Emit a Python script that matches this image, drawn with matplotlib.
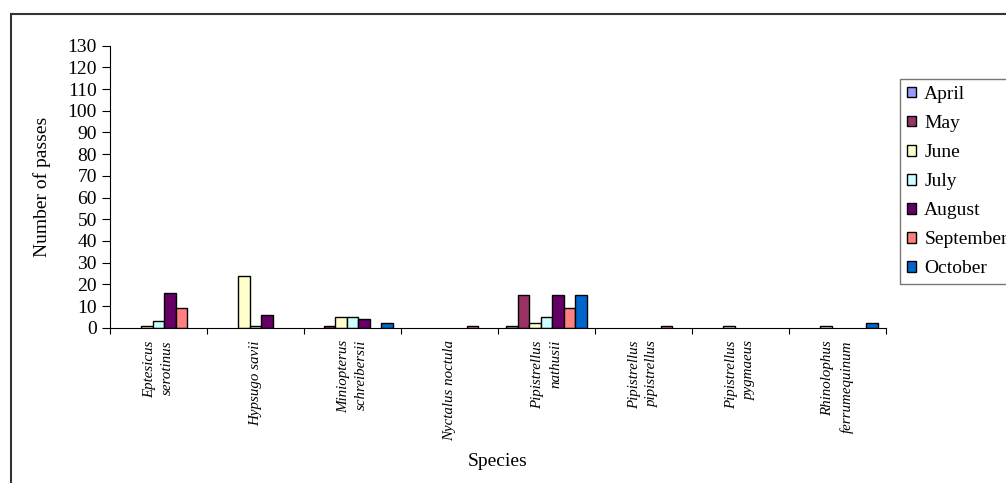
import numpy as np
import matplotlib
matplotlib.use("Agg")
import matplotlib.pyplot as plt
from matplotlib.patches import Rectangle

# number of passes per species and month
species = ["Eptesicus\nserotinus", "Hypsugo savii", "Miniopterus\nschreibersii",
           "Nyctalus noctula", "Pipistrellus\nnathusii", "Pipistrellus\npipistrellus",
           "Pipistrellus\npygmaeus", "Rhinolophus\nferrumequinum"]
months = ["April", "May", "June", "July", "August", "September", "October"]

april = [0, 0, 0, 0, 1, 0, 0, 0]
may = [0, 0, 1, 0, 15, 0, 0, 0]
june = [1, 24, 5, 0, 2, 0, 1, 1]
july = [3, 1, 5, 0, 5, 0, 0, 0]
august = [16, 6, 4, 0, 15, 0, 0, 0]
september = [9, 0, 0, 1, 9, 1, 0, 0]
october = [0, 0, 2, 0, 15, 0, 0, 2]

series = [april, may, june, july, august, september, october]
colors = ["#9999FF", "#993366", "#FFFFCC", "#CCFFFF", "#660066", "#FF8080", "#0066CC"]
yticks = list(range(0, 131, 10))

plt.rcParams["font.family"] = ["Liberation Serif", "DejaVu Serif"]

fig = plt.figure(figsize=(10.06, 4.83), dpi=100)
ax = fig.add_axes([110 / 1006, 155.3 / 483, 776 / 1006, 282 / 483])

x = np.arange(len(species))
w = 0.118
for i, (vals, c, m) in enumerate(zip(series, colors, months)):
    vals = np.array(vals, dtype=float)
    mask = vals > 0
    ax.bar(x[mask] + (i - 3) * w, vals[mask], width=w, color=c,
           edgecolor="black", linewidth=1.0, label=m)

ax.set_xlim(-0.5, len(species) - 0.5)
ax.set_ylim(0, 130)
ax.set_yticks(yticks)
ax.tick_params(axis="y", labelsize=14, length=6, width=0.8, direction="out", pad=3.5)

# boundaries between categories as ticks, names on minor ticks
ax.set_xticks(np.arange(len(species) + 1) - 0.5)
ax.set_xticklabels([])
ax.tick_params(axis="x", which="major", length=4, width=0.8)
ax.set_xticks(x, minor=True)
ax.set_xticklabels(species, minor=True, rotation=90, style="italic", fontsize=10.8,
                   linespacing=1.5, multialignment="right")
ax.tick_params(axis="x", which="minor", length=0, pad=9)

for s in ["top", "right"]:
    ax.spines[s].set_visible(False)
for s in ["left", "bottom"]:
    ax.spines[s].set_linewidth(0.8)

ax.set_ylabel("Number of passes", fontsize=14)
ax.yaxis.set_label_coords(-0.076, 0.5)
ax.set_xlabel("Species", fontsize=14)
ax.xaxis.label.set_va("baseline")
ax.xaxis.set_label_coords(0.5, -0.489)

leg = ax.legend(loc="upper left", bbox_to_anchor=(900 / 1006, 1 - 79.3 / 483),
                bbox_transform=fig.transFigure, fontsize=14, frameon=True,
                fancybox=False, borderaxespad=0, borderpad=0.35,
                handlelength=0.45, handleheight=0.45, handletextpad=0.45,
                labelspacing=0.62)
leg.get_frame().set_edgecolor("#555555")
leg.get_frame().set_linewidth(1.0)

# chart area border
fig.add_artist(Rectangle((11 / 1006, -0.1), 1.2, 1.1 - 14 / 483,
                         transform=fig.transFigure, fill=False,
                         edgecolor="#333333", linewidth=1.5))

fig.savefig("out.png", dpi=100)
